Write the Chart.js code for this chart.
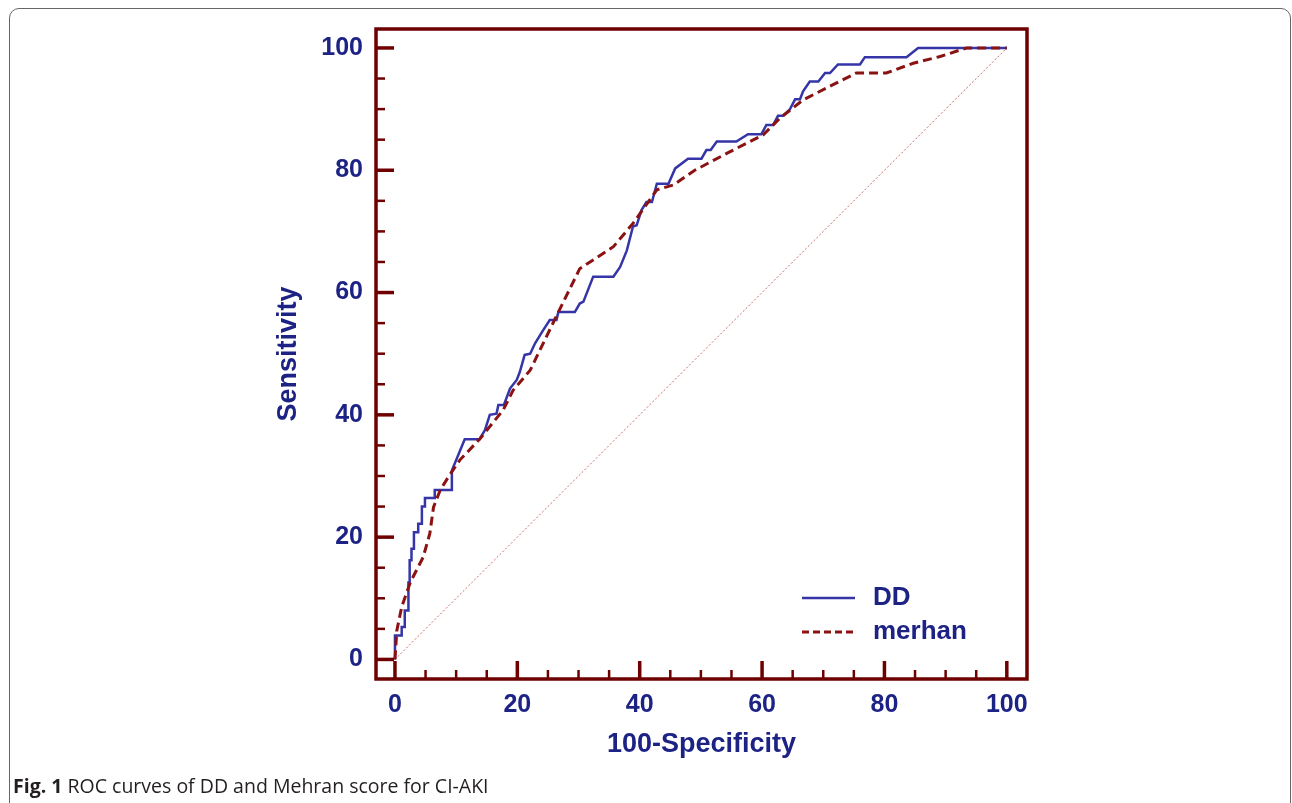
<!DOCTYPE html>
<html>
<head>
<meta charset="utf-8">
<script src="https://cdn.jsdelivr.net/npm/chart.js@4.4.1/dist/chart.umd.min.js"></script>
<style>
  body { margin: 0; background: #fff; }
  #wrap { position: relative; width: 1292px; height: 803px; overflow: hidden; }
  #box { position: absolute; left: 9px; top: 8px; width: 1280px; height: 840px; border: 1px solid #666; border-radius: 10px; }
  #chart { position: absolute; left: 0; top: 0; }
  #caption { position: absolute; left: 13px; top: 772px; font-family: "Open Sans", sans-serif; font-size: 19.5px; color: #231f20; white-space: nowrap; }
</style>
</head>
<body>
<div id="wrap">
  <div id="box"></div>
  <canvas id="chart" width="1292" height="803"></canvas>
  <div id="caption"><b>Fig. 1</b> ROC curves of DD and Mehran score for CI-AKI</div>
</div>
<script>
// ROC curve points (100-Specificity, Sensitivity)
const ddX = [0, 0, 1.1, 1.1, 1.6, 1.6, 2.2, 2.2, 2.4, 2.4, 2.7, 2.7, 3.1, 3.1, 3.8, 3.8, 4.4, 4.4, 4.9, 4.9,
  6.5, 6.5, 9.3, 9.3, 11.4, 13.8, 14.7, 15.5, 16.6, 16.9, 17.8, 18.8, 19.9, 20.4, 21.2, 22.1, 22.9, 24.2,
  25.3, 26.4, 26.7, 29.4, 30.2, 30.8, 32.4, 35.7, 36.8, 37.9, 38.9, 39.5, 40.3, 41.1, 42, 42.8, 44.7, 45.8,
  47.9, 50.1, 50.9, 51.6, 52.6, 55.8, 57.7, 59.9, 60.7, 61.8, 62.6, 63.4, 64.5, 65.4, 66.2, 66.7, 67.8, 69.2,
  70.3, 71.1, 72.4, 76, 76.8, 83.6, 85.5, 100];
const ddY = [0, 3.9, 3.9, 5.3, 5.3, 8.0, 8.0, 12.6, 12.6, 16.2, 16.2, 18.1, 18.1, 20.8, 20.8, 22.2, 22.2, 25, 25, 26.4,
  26.4, 27.7, 27.7, 30.9, 36, 36, 37.5, 40, 40.2, 41.6, 41.6, 44.3, 45.7, 47, 49.8, 50, 51.7, 53.8,
  55.5, 55.5, 56.8, 56.8, 58.2, 58.5, 62.6, 62.6, 64.2, 66.9, 70.8, 71, 73.5, 74.8, 74.8, 77.8, 77.8, 80.3,
  81.9, 81.9, 83.3, 83.3, 84.7, 84.7, 85.9, 85.9, 87.4, 87.4, 88.9, 88.9, 89.9, 91.6, 91.6, 92.9, 94.5, 94.5,
  95.9, 95.9, 97.3, 97.3, 98.5, 98.5, 100, 100];

const mehX = [0, 0.3, 1.1, 2.5, 4.6, 5.7, 6.3, 7.4, 8.7, 10.6, 13.9, 17.7, 19.3, 22.1, 26.7, 30.2, 35.7, 38.9,
  42.8, 45.5, 49, 54.7, 60.2, 62.9, 66.7, 71.6, 75.4, 80.3, 84.7, 89.1, 93.4, 100];
const mehY = [0, 4.7, 8.6, 12.6, 16.7, 20.6, 24.9, 27.7, 29.8, 32.6, 36.1, 40.8, 44, 47.3, 56.8, 63.9, 67.5, 71.3,
  76.8, 77.6, 80, 83, 85.8, 88.5, 91.5, 94, 95.9, 95.9, 97.5, 98.6, 100, 100];

const refX = [0, 100];
const refY = [0, 100];

const majorTicks = [0, 20, 40, 60, 80, 100];
const minorTicks = [5, 10, 15, 25, 30, 35, 45, 50, 55, 65, 70, 75, 85, 90, 95];

const NAVY = '#1d2385';
const FRAME = '#6e0000';
const DD_COLOR = '#3535a8';
const MEH_COLOR = '#8b1212';

function toPoints(xs, ys) {
    return xs.map((v, i) => ({ x: v, y: ys[i] }));
}

// frame around plot area with inward ticks
const frameTicks = {
    id: 'frameTicks',
    afterDatasetsDraw(chart) {
        const { ctx, chartArea: a, scales: { x, y } } = chart;
        ctx.save();
        ctx.strokeStyle = FRAME;
        ctx.lineCap = 'butt';

        const drawTick = (v, len, w) => {
            ctx.lineWidth = w;
            const px = x.getPixelForValue(v);
            ctx.beginPath();
            ctx.moveTo(px, a.bottom);
            ctx.lineTo(px, a.bottom - len);
            ctx.stroke();
            const py = y.getPixelForValue(v);
            ctx.beginPath();
            ctx.moveTo(a.left, py);
            ctx.lineTo(a.left + len, py);
            ctx.stroke();
        };
        majorTicks.forEach(v => drawTick(v, 18, 3.5));
        minorTicks.forEach(v => drawTick(v, 9, 2.5));

        ctx.lineWidth = 3.5;
        ctx.strokeRect(a.left, a.top, a.right - a.left, a.bottom - a.top);
        ctx.restore();
    }
};

// legend in the lower right corner of the plot
const innerLegend = {
    id: 'innerLegend',
    afterDatasetsDraw(chart) {
        const { ctx, chartArea: a } = chart;
        const items = [
            { label: 'DD', color: DD_COLOR, width: 2.5, dash: [], y: a.bottom - 81 },
            { label: 'merhan', color: MEH_COLOR, width: 3, dash: [7, 4], y: a.bottom - 47 }
        ];
        ctx.save();
        items.forEach(it => {
            ctx.strokeStyle = it.color;
            ctx.lineWidth = it.width;
            ctx.setLineDash(it.dash);
            ctx.beginPath();
            ctx.moveTo(a.left + 426, it.y);
            ctx.lineTo(a.left + 479, it.y);
            ctx.stroke();
            ctx.setLineDash([]);
            ctx.fillStyle = NAVY;
            ctx.font = 'bold 26px "Liberation Sans", Arial, sans-serif';
            ctx.textBaseline = 'middle';
            ctx.fillText(it.label, a.left + 497, it.y);
        });
        ctx.restore();
    }
};

const tickFont = { family: '"Liberation Sans", Arial, sans-serif', size: 25, weight: 'bold' };
const titleFont = { family: '"Liberation Sans", Arial, sans-serif', size: 27, weight: 'bold' };

new Chart(document.getElementById('chart'), {
    type: 'line',
    data: {
        datasets: [
            {
                label: 'merhan',
                data: toPoints(mehX, mehY),
                borderColor: MEH_COLOR,
                borderWidth: 3,
                borderDash: [9, 5],
                pointRadius: 0,
                fill: false,
                tension: 0
            },
            {
                label: 'DD',
                data: toPoints(ddX, ddY),
                borderColor: DD_COLOR,
                borderWidth: 2.5,
                pointRadius: 0,
                fill: false,
                tension: 0
            },
            {
                label: 'reference',
                data: toPoints(refX, refY),
                borderColor: '#cc6a6a',
                borderWidth: 1,
                borderDash: [2, 2],
                pointRadius: 0,
                fill: false,
                tension: 0
            }
        ]
    },
    options: {
        responsive: false,
        animation: false,
        devicePixelRatio: 1,
        layout: { padding: { left: 268, right: 265, top: 29, bottom: 38 } },
        plugins: {
            legend: { display: false },
            tooltip: { enabled: false }
        },
        scales: {
            x: {
                type: 'linear',
                min: -3.1,
                max: 103.3,
                afterBuildTicks: scale => { scale.ticks = majorTicks.map(v => ({ value: v })); },
                afterFit: scale => { scale.height = 86; },
                grid: { display: false },
                border: { display: false },
                ticks: { color: NAVY, font: tickFont, padding: 3, maxRotation: 0, autoSkip: false },
                title: { display: true, text: '100-Specificity', color: NAVY, font: titleFont }
            },
            y: {
                type: 'linear',
                min: -3.2,
                max: 103.1,
                afterBuildTicks: scale => { scale.ticks = majorTicks.map(v => ({ value: v })); },
                afterFit: scale => { scale.width = 108; },
                grid: { display: false },
                border: { display: false },
                ticks: { color: NAVY, font: tickFont, padding: 5, autoSkip: false },
                title: { display: true, text: 'Sensitivity', color: NAVY, font: titleFont }
            }
        }
    },
    plugins: [frameTicks, innerLegend]
});
</script>
</body>
</html>
